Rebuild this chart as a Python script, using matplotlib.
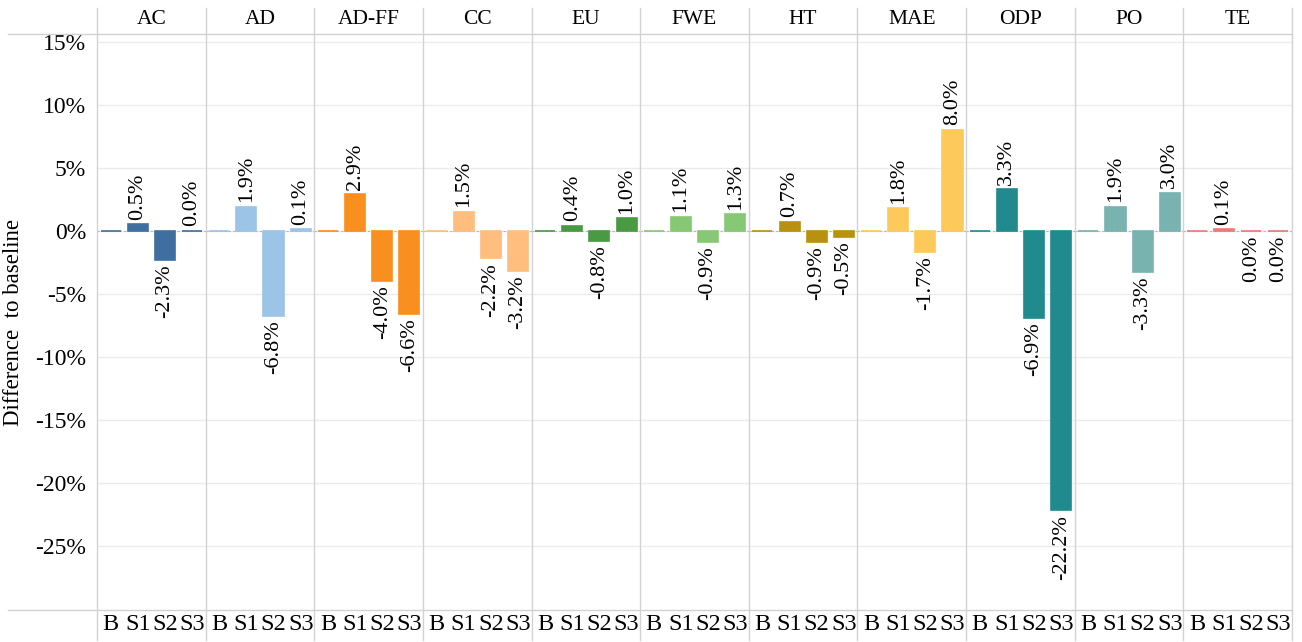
import matplotlib.pyplot as plt
from matplotlib.lines import Line2D

# data
groups = ["AC", "AD", "AD-FF", "CC", "EU", "FWE", "HT", "MAE", "ODP", "PO", "TE"]
scenarios = ["B", "S1", "S2", "S3"]
colors = ["#3F6FA0", "#9BC4E6", "#F98F1E", "#FFBE7D", "#4A9A44", "#86C874",
          "#B8920E", "#FDC95A", "#208A8E", "#78B3B0", "#EC7A78"]

ac = [0.0, 0.5, -2.3, 0.0]
ad = [0.0, 1.9, -6.8, 0.1]
adff = [0.0, 2.9, -4.0, -6.6]
cc = [0.0, 1.5, -2.2, -3.2]
eu = [0.0, 0.4, -0.8, 1.0]
fwe = [0.0, 1.1, -0.9, 1.3]
ht = [0.0, 0.7, -0.9, -0.5]
mae = [0.0, 1.8, -1.7, 8.0]
odp = [0.0, 3.3, -6.9, -22.2]
po = [0.0, 1.9, -3.3, 3.0]
te = [0.0, 0.1, -0.01, -0.01]
values = [ac, ad, adff, cc, eu, fwe, ht, mae, odp, po, te]
yticks = [15, 10, 5, 0, -5, -10, -15, -20, -25]

plt.rcParams['font.family'] = ['Liberation Serif', 'DejaVu Serif']

W, H = 1302, 642
fig, axes = plt.subplots(1, 11, figsize=(W / 100, H / 100), dpi=100, sharey=True)
fig.subplots_adjust(left=97 / W, right=1292 / W, top=1 - 34 / H, bottom=1 - 610 / H, wspace=0)

grid_c = "#ebebeb"
line_c = "#d2d2d2"
x = list(range(len(scenarios)))

for i, ax in enumerate(axes):
    vals = values[i]
    ax.bar(x, vals, width=0.74, color=colors[i], edgecolor=colors[i], linewidth=1.2, zorder=3)
    ax.axhline(0, color="#b5b5b5", lw=0.8, ls=(0, (2, 2)), zorder=2)
    for j, v in enumerate(vals):
        if j == 0:
            continue
        txt = "0.0%" if round(v, 1) == 0 else f"{v:.1f}%"
        if v >= 0:
            ax.text(j, v + 0.35, txt, rotation=90, ha="center", va="bottom", fontsize=16)
        else:
            ax.text(j, v - 0.35, txt, rotation=90, ha="center", va="top", fontsize=16)
    ax.set_xlim(-0.5, 3.5)
    ax.set_ylim(-30.1, 15.6)
    ax.set_yticks(yticks)
    ax.grid(axis="y", color=grid_c, lw=1, zorder=0)
    ax.set_xticks(x)
    ax.set_xticklabels(scenarios, fontsize=17.5)
    ax.tick_params(axis="both", length=0, pad=3)
    for s in ax.spines.values():
        s.set_visible(False)
    ax.text(0.5, 1 + 14 / 576, groups[i], transform=ax.transAxes, ha="center",
            va="center", fontsize=15.5)

axes[0].set_yticklabels([f"{t}%" for t in yticks], fontsize=17)
axes[0].tick_params(axis="y", pad=8)
axes[0].set_ylabel("Difference  to baseline", fontsize=16.5, labelpad=8)

# panel separators and header lines
for k in range(12):
    xf = (97 + k * (1292 - 97) / 11) / W
    fig.add_artist(Line2D([xf, xf], [1 - 8 / H, 1 - 640 / H], transform=fig.transFigure,
                          color=line_c, lw=1))
for yp in [34, 610]:
    fig.add_artist(Line2D([8 / W, 1292 / W], [1 - yp / H, 1 - yp / H], transform=fig.transFigure,
                          color=line_c, lw=1))

fig.savefig("out.png", dpi=100)
